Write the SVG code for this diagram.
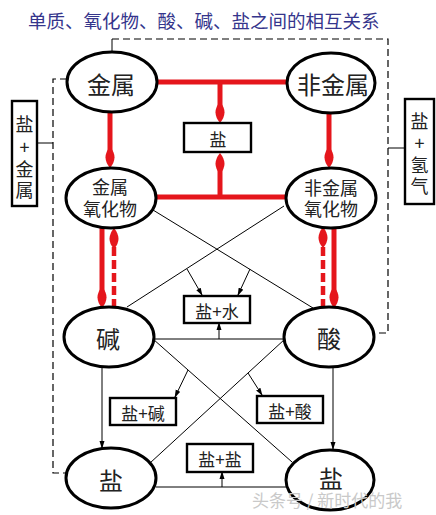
<svg xmlns="http://www.w3.org/2000/svg" width="436" height="515" viewBox="0 0 436 515">
<style>
text{font-family:"Noto Sans CJK SC","Noto Sans",sans-serif;text-anchor:middle;dominant-baseline:central;fill:#222}
.title{fill:#35358c;font-size:18.5px;text-anchor:start}
.node ellipse{fill:#fff;stroke:#000;stroke-width:3}
.box rect{fill:#fff;stroke:#000;stroke-width:2.4}
.big{font-size:24px}
.mid{font-size:18px}
.vt{font-size:18px}
.sm{font-size:17px}
.red{stroke:#e5161c;stroke-width:5;fill:none}
.reddash{stroke:#e5161c;stroke-width:4.5;fill:none;stroke-dasharray:9,4}
.thin{stroke:#000;stroke-width:1;fill:none}
.dash{stroke:#000;stroke-width:1.2;fill:none;stroke-dasharray:7,4}
.wm{fill:#c9c9c9;font-size:17px;text-anchor:start}
</style>
<defs>
<marker id="ra" viewBox="-11 -6 22 12" refX="0" refY="0" markerWidth="22" markerHeight="12" markerUnits="userSpaceOnUse" orient="auto">
<path d="M11,0 Q0,-9 -10,0 Q0,9 11,0 Z" fill="#e5161c"/>
</marker>
<marker id="ka" viewBox="0 -3 8 6" refX="7" refY="0" markerWidth="8" markerHeight="6" markerUnits="userSpaceOnUse" orient="auto">
<path d="M0,-2.5 L8,0 L0,2.5 Z" fill="#000"/>
</marker>
</defs>
<rect width="436" height="515" fill="#fff"/>
<text class="title" x="28" y="20">单质、氧化物、酸、碱、盐之间的相互关系</text>

<g id="connectors">
<path class="thin" d="M112,52 V39"/>
<path class="dash" d="M112,39 H388 V333 H373"/>
<path class="thin" d="M388,148 H405"/>
<path class="dash" d="M67,79 H53 V473 H67"/>
<path class="thin" d="M37,143 H53"/>
<path class="red" d="M157,82 H287"/>
<path class="red" d="M156,197 H286"/>
<path class="red" d="M220,82 V112" marker-end="url(#ra)"/>
<path class="red" d="M220,197 V164" marker-end="url(#ra)"/>
<path class="red" d="M110,112 V157" marker-end="url(#ra)"/>
<path class="red" d="M329,113 V157" marker-end="url(#ra)"/>
<path class="red" d="M102,228 V297" marker-end="url(#ra)"/>
<path class="reddash" d="M114,308 V239" marker-end="url(#ra)"/>
<path class="reddash" d="M323,308 V238" marker-end="url(#ra)"/>
<path class="red" d="M334,227 V297" marker-end="url(#ra)"/>
<path class="thin" d="M153,210 L313,308"/>
<path class="thin" d="M284,206 L127,307"/>
<path class="thin" d="M187,269 L202,295" marker-end="url(#ka)"/>
<path class="thin" d="M250,269 L238,295" marker-end="url(#ka)"/>
<path class="thin" d="M154,339 H284"/>
<path class="thin" d="M219,339 V323" marker-end="url(#ka)"/>
<path class="thin" d="M153,339 L292,462"/>
<path class="thin" d="M285,339 L150,463"/>
<path class="thin" d="M188,370 L175,397" marker-end="url(#ka)"/>
<path class="thin" d="M248,373 L262,395" marker-end="url(#ka)"/>
<path class="thin" d="M156,487 H287"/>
<path class="thin" d="M222,487 V472" marker-end="url(#ka)"/>
<path class="thin" d="M102,367 V448" marker-end="url(#ka)"/>
<path class="thin" d="M333,368 V449" marker-end="url(#ka)"/>
</g>

<g id="n-jinshu" class="node"><ellipse cx="112" cy="82" rx="45" ry="30"/><text class="big" x="111" y="83">金属</text></g>
<g id="n-feijinshu" class="node"><ellipse cx="331" cy="83" rx="44" ry="30"/><text class="big" x="333" y="83">非金属</text></g>
<g id="n-jinshu-oxide" class="node"><ellipse cx="111" cy="198" rx="45" ry="30"/><text class="mid"><tspan x="110" y="186">金属</tspan><tspan x="110" y="208">氧化物</tspan></text></g>
<g id="n-feijinshu-oxide" class="node"><ellipse cx="331" cy="198" rx="45" ry="30"/><text class="mid"><tspan x="331" y="187">非金属</tspan><tspan x="331" y="208">氧化物</tspan></text></g>
<g id="n-jian" class="node"><ellipse cx="109" cy="337" rx="45" ry="30"/><text class="big" x="108" y="337">碱</text></g>
<g id="n-suan" class="node"><ellipse cx="329" cy="337" rx="45" ry="30"/><text class="big" x="329" y="337">酸</text></g>
<g id="n-yan-left" class="node"><ellipse cx="111" cy="478" rx="45" ry="30"/><text class="big" x="111" y="479">盐</text></g>
<g id="n-yan-right" class="node"><ellipse cx="330" cy="480" rx="44" ry="30"/><text class="big" x="331" y="477">盐</text></g>

<g id="b-yan" class="box"><rect x="184" y="123" width="67" height="29"/><text class="sm" x="218" y="138">盐</text></g>
<g id="b-yanshui" class="box"><rect x="184" y="296" width="66" height="27"/><text class="sm" x="217" y="310">盐+水</text></g>
<g id="b-yanjian" class="box"><rect x="110" y="398" width="66" height="27"/><text class="sm" x="143" y="412">盐+碱</text></g>
<g id="b-yansuan" class="box"><rect x="257" y="396" width="66" height="27"/><text class="sm" x="290" y="410">盐+酸</text></g>
<g id="b-yanyan" class="box"><rect x="187" y="444" width="66" height="28"/><text class="sm" x="220" y="458">盐+盐</text></g>
<g id="b-yanjinshu" class="box"><rect x="12" y="101" width="25" height="105"/><text class="vt"><tspan x="24.5" y="123">盐</tspan><tspan x="24.5" y="146">+</tspan><tspan x="24.5" y="168">金</tspan><tspan x="24.5" y="189">属</tspan></text></g>
<g id="b-yanqingqi" class="box"><rect x="405" y="99" width="29" height="105"/><text class="vt"><tspan x="419.5" y="120">盐</tspan><tspan x="419.5" y="142">+</tspan><tspan x="419.5" y="164">氢</tspan><tspan x="419.5" y="185">气</tspan></text></g>

<text class="wm" x="252" y="499">头条号 / 新时代的我</text>
</svg>
